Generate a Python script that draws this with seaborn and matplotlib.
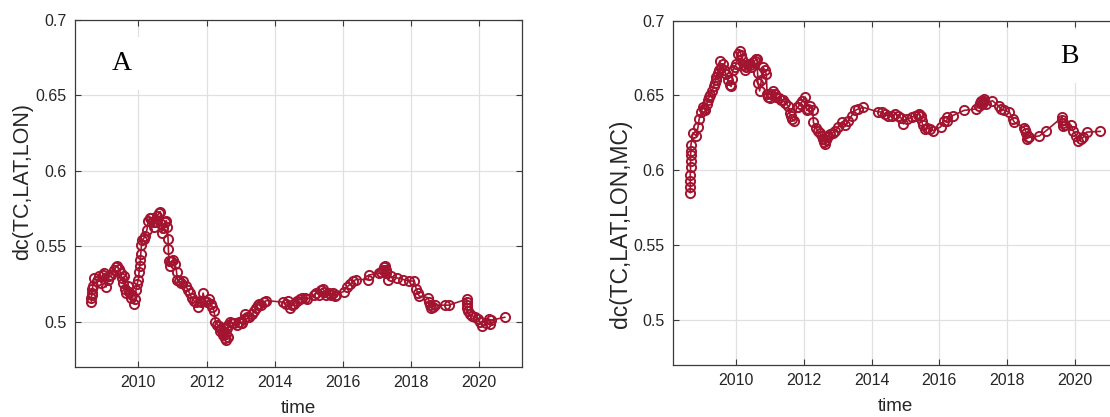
#!/usr/bin/env python3
"""
Distance correlation over time, two panels (A: TC,LAT,LON ; B: TC,LAT,LON,MC)
"""

import numpy as np
import pandas as pd
import matplotlib
matplotlib.use('Agg')
import matplotlib.pyplot as plt
import seaborn as sns

sns.set_style('ticks')
plt.rcParams['font.family'] = ['Liberation Sans', 'DejaVu Sans']

LINE_COLOR = '#A2142F'
GRID_COLOR = '#e0e0e0'
AX_COLOR = '#3a3a3a'

# ---- panel A: dc(TC,LAT,LON) ----
years_a = [
    2008.62, 2008.62, 2008.63, 2008.64, 2008.65, 2008.66, 2008.70, 2008.78, 2008.85, 2008.90,
    2008.95, 2009.00, 2009.05, 2009.10, 2009.15, 2009.20, 2009.27, 2009.33, 2009.38, 2009.43,
    2009.48, 2009.52, 2009.55, 2009.58, 2009.62, 2009.65, 2009.68, 2009.72, 2009.77, 2009.82,
    2009.87, 2009.90, 2009.93, 2009.96, 2010.00, 2010.02, 2010.04, 2010.06, 2010.07, 2010.09,
    2010.11, 2010.15, 2010.20, 2010.25, 2010.29, 2010.33, 2010.37, 2010.42, 2010.46, 2010.50,
    2010.55, 2010.60, 2010.64, 2010.66, 2010.68, 2010.72, 2010.78, 2010.82, 2010.85, 2010.87,
    2010.88, 2010.90, 2010.92, 2010.97, 2011.02, 2011.08, 2011.12, 2011.14, 2011.20, 2011.26,
    2011.32, 2011.39, 2011.45, 2011.50, 2011.56, 2011.62, 2011.69, 2011.74, 2011.80, 2011.85,
    2011.90, 2011.95, 2012.00, 2012.07, 2012.12, 2012.17, 2012.22, 2012.26, 2012.32, 2012.36,
    2012.40, 2012.43, 2012.47, 2012.50, 2012.53, 2012.56, 2012.58, 2012.60, 2012.62, 2012.64,
    2012.68, 2012.75, 2012.82, 2012.90, 2012.95, 2013.00, 2013.05, 2013.10, 2013.14, 2013.20,
    2013.26, 2013.34, 2013.40, 2013.45, 2013.50, 2013.55, 2013.60, 2013.68, 2013.75, 2014.25,
    2014.32, 2014.38, 2014.45, 2014.52, 2014.58, 2014.66, 2014.73, 2014.80, 2014.88, 2014.96,
    2015.16, 2015.22, 2015.30, 2015.36, 2015.42, 2015.46, 2015.52, 2015.58, 2015.65, 2015.70,
    2015.76, 2015.80, 2016.02, 2016.12, 2016.22, 2016.31, 2016.39, 2016.75, 2016.76, 2017.05,
    2017.12, 2017.18, 2017.22, 2017.24, 2017.26, 2017.28, 2017.34, 2017.41, 2017.60, 2017.78,
    2017.93, 2018.10, 2018.15, 2018.20, 2018.24, 2018.50, 2018.54, 2018.57, 2018.60, 2018.65,
    2018.72, 2019.01, 2019.11, 2019.64, 2019.64, 2019.65, 2019.65, 2019.66, 2019.72, 2019.79,
    2019.89, 2019.96, 2020.02, 2020.09, 2020.19, 2020.28, 2020.31, 2020.35, 2020.76,
]
dc_a = [
    0.513, 0.516, 0.519, 0.522, 0.518, 0.524, 0.529, 0.527, 0.530, 0.526,
    0.531, 0.532, 0.523, 0.528, 0.530, 0.531, 0.534, 0.536, 0.537, 0.535,
    0.532, 0.529, 0.526, 0.530, 0.522, 0.519, 0.524, 0.520, 0.516, 0.518,
    0.512, 0.515, 0.521, 0.525, 0.528, 0.533, 0.537, 0.541, 0.545, 0.551,
    0.554, 0.555, 0.557, 0.561, 0.567, 0.569, 0.569, 0.566, 0.563, 0.566,
    0.570, 0.572, 0.573, 0.565, 0.559, 0.562, 0.566, 0.567, 0.563, 0.555,
    0.548, 0.540, 0.537, 0.540, 0.541, 0.538, 0.533, 0.528, 0.527, 0.526,
    0.527, 0.524, 0.521, 0.519, 0.516, 0.514, 0.513, 0.510, 0.514, 0.513,
    0.519, 0.514, 0.513, 0.515, 0.512, 0.510, 0.507, 0.500, 0.498, 0.497,
    0.494, 0.495, 0.491, 0.493, 0.489, 0.488, 0.492, 0.496, 0.490, 0.498,
    0.500, 0.499, 0.499, 0.498, 0.500, 0.499, 0.499, 0.502, 0.505, 0.503,
    0.503, 0.505, 0.507, 0.509, 0.511, 0.512, 0.511, 0.513, 0.514, 0.513,
    0.512, 0.514, 0.509, 0.511, 0.512, 0.514, 0.515, 0.516, 0.516, 0.515,
    0.518, 0.519, 0.518, 0.521, 0.522, 0.520, 0.518, 0.519, 0.518, 0.519,
    0.517, 0.518, 0.520, 0.523, 0.525, 0.527, 0.528, 0.528, 0.531, 0.532,
    0.533, 0.534, 0.536, 0.537, 0.534, 0.532, 0.528, 0.530, 0.529, 0.528,
    0.527, 0.527, 0.522, 0.519, 0.517, 0.516, 0.513, 0.511, 0.509, 0.510,
    0.511, 0.511, 0.511, 0.515, 0.513, 0.511, 0.509, 0.507, 0.505, 0.504,
    0.503, 0.502, 0.500, 0.497, 0.499, 0.502, 0.4985, 0.501, 0.503,
]

# ---- panel B: dc(TC,LAT,LON,MC) ----
years_b = [
    2008.64, 2008.64, 2008.64, 2008.64, 2008.65, 2008.65, 2008.65, 2008.66, 2008.66, 2008.72,
    2008.82, 2008.87, 2008.90, 2008.97, 2009.01, 2009.06, 2009.09, 2009.13, 2009.16, 2009.20,
    2009.23, 2009.29, 2009.33, 2009.36, 2009.39, 2009.41, 2009.45, 2009.49, 2009.51, 2009.55,
    2009.61, 2009.65, 2009.70, 2009.75, 2009.80, 2009.85, 2009.88, 2009.90, 2009.95, 2010.00,
    2010.05, 2010.10, 2010.14, 2010.18, 2010.22, 2010.25, 2010.30, 2010.34, 2010.40, 2010.44,
    2010.50, 2010.54, 2010.58, 2010.61, 2010.63, 2010.64, 2010.69, 2010.74, 2010.79, 2010.84,
    2010.89, 2010.91, 2010.95, 2010.99, 2011.04, 2011.08, 2011.13, 2011.18, 2011.25, 2011.32,
    2011.38, 2011.45, 2011.53, 2011.58, 2011.62, 2011.66, 2011.72, 2011.78, 2011.82, 2011.88,
    2011.95, 2012.03, 2012.08, 2012.13, 2012.18, 2012.26, 2012.28, 2012.37, 2012.42, 2012.47,
    2012.52, 2012.57, 2012.60, 2012.62, 2012.65, 2012.67, 2012.72, 2012.77, 2012.85, 2012.92,
    2013.01, 2013.11, 2013.21, 2013.31, 2013.41, 2013.51, 2013.61, 2013.75, 2014.20, 2014.30,
    2014.39, 2014.49, 2014.59, 2014.69, 2014.79, 2014.87, 2014.94, 2015.05, 2015.18, 2015.28,
    2015.36, 2015.41, 2015.45, 2015.48, 2015.51, 2015.58, 2015.65, 2015.72, 2015.82, 2016.04,
    2016.14, 2016.22, 2016.24, 2016.39, 2016.73, 2017.08, 2017.18, 2017.21, 2017.23, 2017.26,
    2017.28, 2017.31, 2017.33, 2017.38, 2017.57, 2017.75, 2017.82, 2017.92, 2018.07, 2018.17,
    2018.22, 2018.51, 2018.54, 2018.56, 2018.58, 2018.62, 2018.66, 2018.96, 2019.16, 2019.63,
    2019.63, 2019.64, 2019.64, 2019.70, 2019.90, 2019.95, 2020.05, 2020.10, 2020.18, 2020.25,
    2020.35, 2020.76,
]
dc_b = [
    0.585, 0.589, 0.593, 0.597, 0.602, 0.606, 0.610, 0.613, 0.617, 0.625,
    0.623, 0.629, 0.634, 0.639, 0.642, 0.641, 0.640, 0.644, 0.647, 0.649,
    0.650, 0.653, 0.656, 0.658, 0.660, 0.662, 0.665, 0.667, 0.673, 0.668,
    0.671, 0.667, 0.664, 0.660, 0.657, 0.656, 0.661, 0.667, 0.669, 0.671,
    0.678, 0.680, 0.677, 0.674, 0.670, 0.667, 0.669, 0.671, 0.670, 0.669,
    0.672, 0.673, 0.674, 0.674, 0.665, 0.658, 0.653, 0.660, 0.669, 0.667,
    0.664, 0.651, 0.649, 0.648, 0.651, 0.653, 0.651, 0.649, 0.648, 0.647,
    0.647, 0.645, 0.643, 0.638, 0.636, 0.634, 0.633, 0.642, 0.642, 0.644,
    0.646, 0.649, 0.640, 0.641, 0.643, 0.640, 0.632, 0.628, 0.626, 0.625,
    0.623, 0.621, 0.619, 0.6175, 0.620, 0.622, 0.623, 0.624, 0.625, 0.626,
    0.629, 0.632, 0.630, 0.633, 0.6365, 0.640, 0.641, 0.642, 0.639, 0.639,
    0.6375, 0.6365, 0.636, 0.6375, 0.6365, 0.635, 0.631, 0.634, 0.6355, 0.6365,
    0.637, 0.6375, 0.6365, 0.633, 0.630, 0.6275, 0.628, 0.6275, 0.6265, 0.629,
    0.633, 0.633, 0.6355, 0.6365, 0.640, 0.641, 0.643, 0.645, 0.6465, 0.644,
    0.6455, 0.646, 0.6475, 0.6445, 0.6465, 0.643, 0.641, 0.640, 0.639, 0.634,
    0.632, 0.6285, 0.627, 0.625, 0.621, 0.6225, 0.622, 0.623, 0.6265, 0.6355,
    0.6335, 0.6315, 0.6295, 0.630, 0.630, 0.6265, 0.623, 0.6195, 0.621, 0.622,
    0.6255, 0.626,
]

y_ticks = [0.5, 0.55, 0.6, 0.65, 0.7]
y_ticklabels = ['0.5', '0.55', '0.6', '0.65', '0.7']
x_ticks = [2010, 2012, 2014, 2016, 2018, 2020]
x_ticklabels = ['2010', '2012', '2014', '2016', '2018', '2020']

panels = [
    dict(years=years_a, dc=dc_a, ylabel='dc(TC,LAT,LON)', tag='A', ylab_size=15.5,
         ylab_xy=(-0.094, 0.535), rect=[0.0676, 0.1199, 0.4027, 0.8321],
         tag_xy=(0.105, 0.875)),
    dict(years=years_b, dc=dc_b, ylabel='dc(TC,LAT,LON,MC)', tag='B', ylab_size=16.5,
         ylab_xy=(-0.094, 0.41), rect=[0.6066, 0.1247, 0.4000, 0.8260],
         tag_xy=(0.893, 0.895)),
]

fig = plt.figure(figsize=(11.1, 4.17), dpi=100)

for p in panels:
    ax = fig.add_axes(p['rect'])
    df = pd.DataFrame({'time': p['years'], 'dc': p['dc']})
    sns.lineplot(data=df, x='time', y='dc', estimator=None, sort=False, ax=ax,
                 color=LINE_COLOR, linewidth=1.2, marker='o', markersize=6.6,
                 markerfacecolor='none', markeredgecolor=LINE_COLOR,
                 markeredgewidth=1.4, zorder=3)

    ax.set_xlim(2008.14, 2021.26)
    ax.set_ylim(0.47, 0.70)
    ax.set_xticks(x_ticks)
    ax.set_xticklabels(x_ticklabels)
    ax.set_yticks(y_ticks)
    ax.set_yticklabels(y_ticklabels)
    ax.grid(True, color=GRID_COLOR, linewidth=0.9, zorder=0)
    ax.set_axisbelow(True)
    ax.tick_params(direction='in', length=4, width=0.8, color=AX_COLOR,
                   labelcolor='#262626', labelsize=11.5,
                   top=True, right=True, pad=6)
    for s in ax.spines.values():
        s.set_visible(True)
        s.set_color(AX_COLOR)
        s.set_linewidth(0.9)

    ax.set_xlabel('time', fontsize=13.5, color='#262626', labelpad=7)
    ax.set_ylabel(p['ylabel'], fontsize=p['ylab_size'], color='#262626')
    ax.yaxis.set_label_coords(*p['ylab_xy'])

    ax.text(p['tag_xy'][0], p['tag_xy'][1], p['tag'], transform=ax.transAxes,
            ha='center', va='center', fontsize=20, family='Liberation Serif',
            color='black', zorder=5,
            bbox=dict(boxstyle='square,pad=0.5', facecolor='white', edgecolor='none'))

fig.savefig('out.png', dpi=100)
